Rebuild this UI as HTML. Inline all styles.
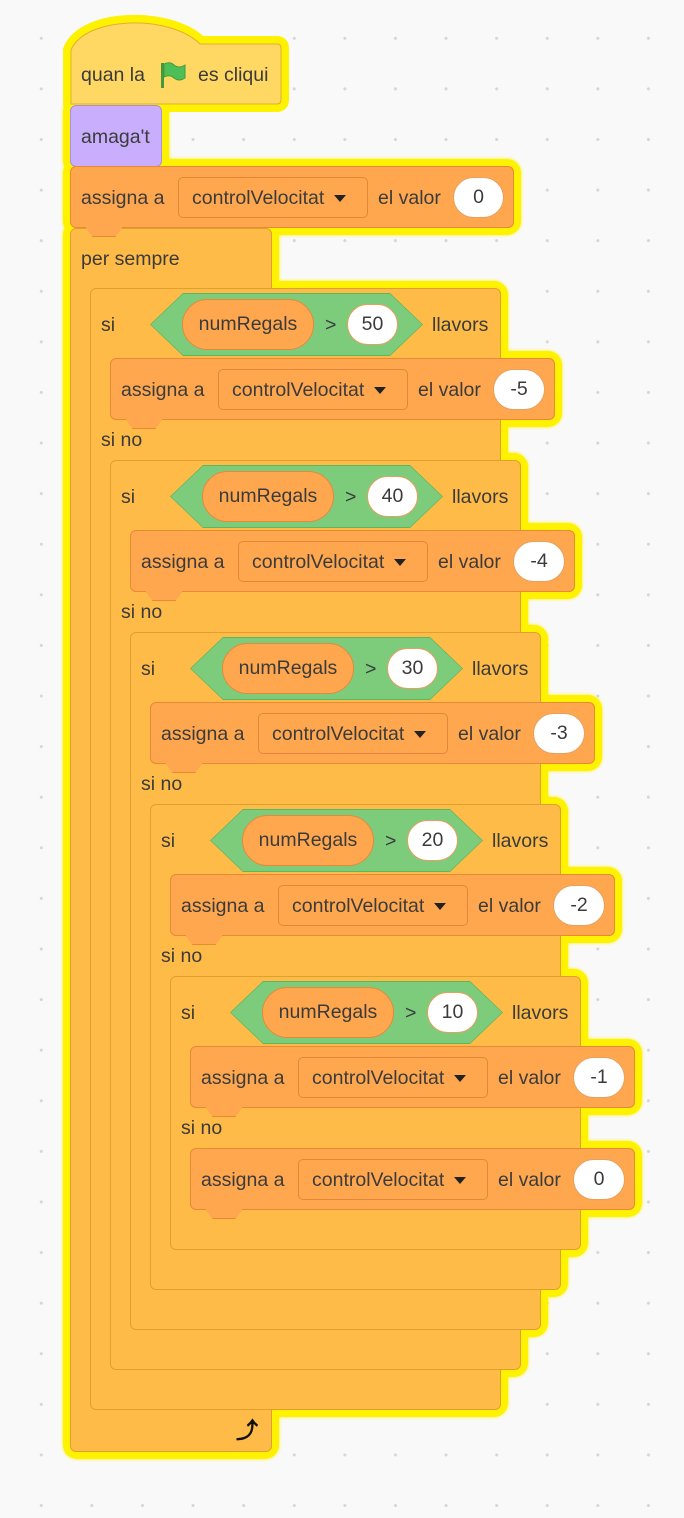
<!DOCTYPE html>
<html><head><meta charset="utf-8"><style>
html,body{margin:0;padding:0}
body{width:684px;height:1518px;position:relative;overflow:hidden;background-color:#f9f9f9;
background-image:radial-gradient(circle at center,#d6d6d6 1.3px,transparent 1.8px);
background-size:50.6px 50.6px;background-position:16px 13px;
font-family:"Liberation Sans",sans-serif;color:#3b3b3b;font-size:19.5px}
.b{position:absolute;box-sizing:border-box;border-radius:6px}
.b::before{content:"";position:absolute;left:-8px;top:-8px;right:-8px;bottom:-8px;background:#fff200;border-radius:14px;z-index:-1;box-shadow:0 0 3px #fff200}
.c{background:#ffbb48;border:1px solid #e0a030}
.a{background:#ffa74f;border:1px solid #e68a33;height:62px}
.t{position:absolute;line-height:20px;white-space:nowrap}
.dd{position:absolute;box-sizing:border-box;height:41px;border:1px solid #e2873a;border-radius:5px;background:#ffa74f}
.v{position:absolute;box-sizing:border-box;height:41px;background:#fff;border-radius:21px;border:1px solid #e6a060;text-align:center;line-height:39px}
.arr{display:inline-block;width:0;height:0;border-left:6px solid transparent;border-right:6px solid transparent;border-top:7px solid #222;vertical-align:middle;margin-left:10px}
.hx{position:absolute;height:63px;clip-path:polygon(0 50%,33px 0,calc(100% - 33px) 0,100% 50%,calc(100% - 33px) 100%,33px 100%);background:#5fb65f}
.hx i{position:absolute;left:1px;top:1px;right:1px;bottom:1px;background:#7ccc7c;clip-path:polygon(0 50%,32px 0,calc(100% - 32px) 0,100% 50%,calc(100% - 32px) 100%,32px 100%)}
.rp{position:absolute;box-sizing:border-box;height:51px;width:132px;border-radius:26px;background:#ffa74f;border:1px solid #e6883a;text-align:center;line-height:49px}
.tab{position:absolute;width:36px;height:9px;background:#ffa74f;border:1px solid #e68a33;border-top:none;border-radius:0 0 5px 5px;clip-path:polygon(0 0,100% 0,80% 100%,20% 100%)}
</style></head><body>

<!-- hat -->
<svg style="position:absolute;left:0;top:0;z-index:-1" width="300" height="130"><path d="M71 104 V50 C85 16 170 14 200 44 H277 Q281 44 281 48 V100 Q281 104 277 104 Z" fill="#fff200" stroke="#fff200" stroke-width="16" stroke-linejoin="round"/></svg>
<svg style="position:absolute;left:0;top:0" width="300" height="130"><path d="M71 104 V50 C85 16 170 14 200 44 H277 Q281 44 281 48 V100 Q281 104 277 104 Z" fill="#ffd763" stroke="#e0b030" stroke-width="1"/></svg>
<div class="t" style="left:81px;top:65px">quan la</div>
<svg style="position:absolute;left:158px;top:60px" width="30" height="30" viewBox="0 0 30 30"><rect x="3" y="3" width="3" height="25" fill="#45993d"/><path d="M6 4 Q12 1 16 5 Q21 9 27 5 L27 18 Q21 22 16 18 Q12 14 6 17Z" fill="#4cbf56" stroke="#45993d" stroke-width="1"/></svg>
<div class="t" style="left:198px;top:65px">es cliqui</div>

<!-- amaga't -->
<div class="b" style="left:70px;top:105px;width:92px;height:62px;background:#c8aefc;border:1px solid #a98ee2"></div>
<div class="t" style="left:81px;top:127px">amaga't</div>

<!-- assign top -->
<div class="b a" style="left:70px;top:166px;width:444px"></div>
<div class="t" style="left:81px;top:188px">assigna a</div>
<div class="dd" style="left:178px;top:177px;width:190px"></div>
<div class="t" style="left:192px;top:188px">controlVelocitat<span class="arr"></span></div>
<div class="t" style="left:378px;top:188px">el valor</div>
<div class="v" style="left:453px;top:177px;width:51px">0</div>

<!-- forever -->
<div class="b c" style="left:70px;top:228px;width:202px;height:1224px"></div>
<div class="t" style="left:81px;top:249px">per sempre</div>
<div class="t" style="left:236px;top:1421px;font-size:22px;color:#111;font-weight:bold">⤴</div>
<div class="tab" style="left:85px;top:227px;background:#ffa74f"></div>

<!-- level 0 -->
<div class="b c" style="left:90px;top:288px;width:411px;height:1122px"></div>
<div class="t" style="left:101px;top:315px">si</div>
<div class="hx" style="left:150px;top:293px;width:273px"><i></i></div>
<div class="rp" style="left:182px;top:299px">numRegals</div>
<div class="t" style="left:325px;top:315px">&gt;</div>
<div class="v" style="left:347px;top:304px;width:51px">50</div>
<div class="t" style="left:432px;top:315px">llavors</div>
<div class="b a" style="left:110px;top:358px;width:445px"></div>
<div class="t" style="left:121px;top:380px">assigna a</div>
<div class="dd" style="left:218px;top:369px;width:190px"></div>
<div class="t" style="left:232px;top:380px">controlVelocitat<span class="arr"></span></div>
<div class="t" style="left:418px;top:380px">el valor</div>
<div class="v" style="left:493px;top:369px;width:52px">-5</div>
<div class="tab" style="left:125px;top:419px"></div>
<div class="t" style="left:101px;top:430px">si no</div>

<!-- level 1 -->
<div class="b c" style="left:110px;top:460px;width:411px;height:910px"></div>
<div class="t" style="left:121px;top:487px">si</div>
<div class="hx" style="left:170px;top:465px;width:273px"><i></i></div>
<div class="rp" style="left:202px;top:471px">numRegals</div>
<div class="t" style="left:345px;top:487px">&gt;</div>
<div class="v" style="left:367px;top:476px;width:51px">40</div>
<div class="t" style="left:452px;top:487px">llavors</div>
<div class="b a" style="left:130px;top:530px;width:445px"></div>
<div class="t" style="left:141px;top:552px">assigna a</div>
<div class="dd" style="left:238px;top:541px;width:190px"></div>
<div class="t" style="left:252px;top:552px">controlVelocitat<span class="arr"></span></div>
<div class="t" style="left:438px;top:552px">el valor</div>
<div class="v" style="left:513px;top:541px;width:52px">-4</div>
<div class="tab" style="left:145px;top:591px"></div>
<div class="t" style="left:121px;top:602px">si no</div>

<!-- level 2 -->
<div class="b c" style="left:130px;top:632px;width:411px;height:698px"></div>
<div class="t" style="left:141px;top:659px">si</div>
<div class="hx" style="left:190px;top:637px;width:273px"><i></i></div>
<div class="rp" style="left:222px;top:643px">numRegals</div>
<div class="t" style="left:365px;top:659px">&gt;</div>
<div class="v" style="left:387px;top:648px;width:51px">30</div>
<div class="t" style="left:472px;top:659px">llavors</div>
<div class="b a" style="left:150px;top:702px;width:445px"></div>
<div class="t" style="left:161px;top:724px">assigna a</div>
<div class="dd" style="left:258px;top:713px;width:190px"></div>
<div class="t" style="left:272px;top:724px">controlVelocitat<span class="arr"></span></div>
<div class="t" style="left:458px;top:724px">el valor</div>
<div class="v" style="left:533px;top:713px;width:52px">-3</div>
<div class="tab" style="left:165px;top:763px"></div>
<div class="t" style="left:141px;top:774px">si no</div>

<!-- level 3 -->
<div class="b c" style="left:150px;top:804px;width:411px;height:486px"></div>
<div class="t" style="left:161px;top:831px">si</div>
<div class="hx" style="left:210px;top:809px;width:273px"><i></i></div>
<div class="rp" style="left:242px;top:815px">numRegals</div>
<div class="t" style="left:385px;top:831px">&gt;</div>
<div class="v" style="left:407px;top:820px;width:51px">20</div>
<div class="t" style="left:492px;top:831px">llavors</div>
<div class="b a" style="left:170px;top:874px;width:445px"></div>
<div class="t" style="left:181px;top:896px">assigna a</div>
<div class="dd" style="left:278px;top:885px;width:190px"></div>
<div class="t" style="left:292px;top:896px">controlVelocitat<span class="arr"></span></div>
<div class="t" style="left:478px;top:896px">el valor</div>
<div class="v" style="left:553px;top:885px;width:52px">-2</div>
<div class="tab" style="left:185px;top:935px"></div>
<div class="t" style="left:161px;top:946px">si no</div>

<!-- level 4 -->
<div class="b c" style="left:170px;top:976px;width:411px;height:274px"></div>
<div class="t" style="left:181px;top:1003px">si</div>
<div class="hx" style="left:230px;top:981px;width:273px"><i></i></div>
<div class="rp" style="left:262px;top:987px">numRegals</div>
<div class="t" style="left:405px;top:1003px">&gt;</div>
<div class="v" style="left:427px;top:992px;width:51px">10</div>
<div class="t" style="left:512px;top:1003px">llavors</div>
<div class="b a" style="left:190px;top:1046px;width:445px"></div>
<div class="t" style="left:201px;top:1068px">assigna a</div>
<div class="dd" style="left:298px;top:1057px;width:190px"></div>
<div class="t" style="left:312px;top:1068px">controlVelocitat<span class="arr"></span></div>
<div class="t" style="left:498px;top:1068px">el valor</div>
<div class="v" style="left:573px;top:1057px;width:52px">-1</div>
<div class="tab" style="left:205px;top:1107px"></div>
<div class="t" style="left:181px;top:1118px">si no</div>
<div class="b a" style="left:190px;top:1148px;width:445px"></div>
<div class="t" style="left:201px;top:1170px">assigna a</div>
<div class="dd" style="left:298px;top:1159px;width:190px"></div>
<div class="t" style="left:312px;top:1170px">controlVelocitat<span class="arr"></span></div>
<div class="t" style="left:498px;top:1170px">el valor</div>
<div class="v" style="left:573px;top:1159px;width:52px">0</div>
<div class="tab" style="left:205px;top:1209px"></div>

</body></html>
